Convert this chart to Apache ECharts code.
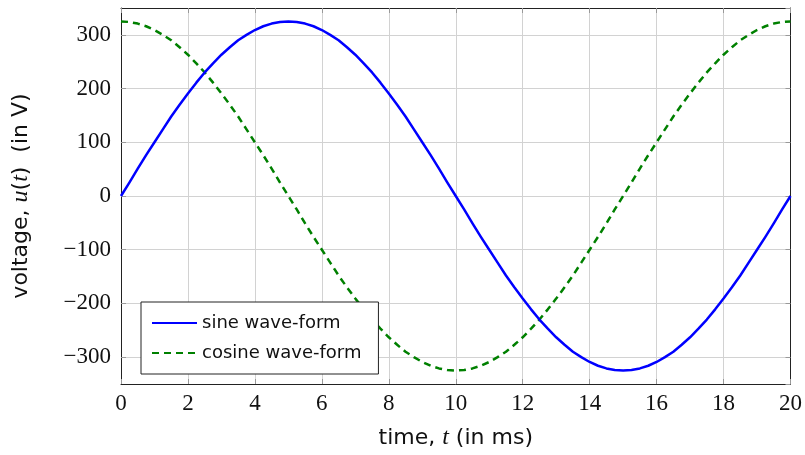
<!DOCTYPE html>
<html>
<head>
<meta charset="utf-8">
<script src="https://cdn.jsdelivr.net/npm/echarts@6/dist/echarts.min.js"></script>
<style>
  html, body { margin: 0; padding: 0; background: #fff; }
  #chart { width: 805px; height: 455px; }
</style>
</head>
<body>
<div id="chart"></div>
<script>
// time in ms, sampled every 0.25 ms
const times = [
  0, 0.25, 0.5, 0.75, 1, 1.25, 1.5, 1.75, 2, 2.25, 2.5, 2.75, 3, 3.25, 3.5, 3.75, 4, 4.25, 4.5, 4.75,
  5, 5.25, 5.5, 5.75, 6, 6.25, 6.5, 6.75, 7, 7.25, 7.5, 7.75, 8, 8.25, 8.5, 8.75, 9, 9.25, 9.5, 9.75,
  10, 10.25, 10.5, 10.75, 11, 11.25, 11.5, 11.75, 12, 12.25, 12.5, 12.75, 13, 13.25, 13.5, 13.75, 14, 14.25, 14.5, 14.75,
  15, 15.25, 15.5, 15.75, 16, 16.25, 16.5, 16.75, 17, 17.25, 17.5, 17.75, 18, 18.25, 18.5, 18.75, 19, 19.25, 19.5, 19.75,
  20
]

// voltage (peak around 325 V)
const sineValues = [
  0, 25, 51, 76, 100, 124, 148, 170, 191, 211, 230, 247, 263, 277, 290, 300, 309, 316, 321, 324,
  325, 324, 321, 316, 309, 300, 290, 277, 263, 247, 230, 211, 191, 170, 148, 124, 100, 76, 51, 25,
  0, -25, -51, -76, -100, -124, -148, -170, -191, -211, -230, -247, -263, -277, -290, -300, -309, -316, -321, -324,
  -325, -324, -321, -316, -309, -300, -290, -277, -263, -247, -230, -211, -191, -170, -148, -124, -100, -76, -51, -25,
  0
]
const cosineValues = [
  325, 324, 321, 316, 309, 300, 290, 277, 263, 247, 230, 211, 191, 170, 148, 124, 100, 76, 51, 25,
  0, -25, -51, -76, -100, -124, -148, -170, -191, -211, -230, -247, -263, -277, -290, -300, -309, -316, -321, -324,
  -325, -324, -321, -316, -309, -300, -290, -277, -263, -247, -230, -211, -191, -170, -148, -124, -100, -76, -51, -25,
  0, 25, 51, 76, 100, 124, 148, 170, 191, 211, 230, 247, 263, 277, 290, 300, 309, 316, 321, 324,
  325
]

const seriesNames = ['sine wave-form', 'cosine wave-form']

const serif = '"Liberation Serif", "DejaVu Serif", serif'
const sans = '"DejaVu Sans", sans-serif'

const chart = echarts.init(document.getElementById('chart'))

const frameLine = { show: true, onZero: false, lineStyle: { color: '#222', width: 1 } }
const innerTick = { show: true, inside: true, length: 5, lineStyle: { color: '#999', width: 1 } }
const gridLine = { show: true, lineStyle: { color: '#d2d2d2', width: 1 } }

const nameRich = {
  s: { fontFamily: sans, fontSize: 22, color: '#111' },
  m: { fontFamily: serif, fontStyle: 'italic', fontSize: 24, color: '#111' }
}

chart.setOption({
  animation: false,
  grid: { left: 121, top: 8, right: 14, bottom: 71 },
  legend: {
    orient: 'vertical',
    left: 141,
    top: 302,
    backgroundColor: '#fff',
    borderColor: '#222',
    borderWidth: 1,
    borderRadius: 0,
    padding: [12, 17, 12, 10],
    itemWidth: 45,
    itemHeight: 14,
    itemGap: 12,
    data: seriesNames,
    itemStyle: { opacity: 0 },
    textStyle: { fontFamily: sans, fontSize: 18, color: '#111' }
  },
  xAxis: [
    {
      type: 'value',
      min: 0,
      max: 20,
      interval: 2,
      axisLine: frameLine,
      axisTick: innerTick,
      splitLine: gridLine,
      axisLabel: { fontFamily: serif, fontSize: 23, color: '#111', margin: 8 },
      name: '{s|time, }{m|t}{s| (in ms)}',
      nameLocation: 'middle',
      nameGap: 42,
      nameTextStyle: { rich: nameRich }
    },
    {
      type: 'value',
      position: 'top',
      min: 0,
      max: 20,
      interval: 2,
      axisLine: frameLine,
      axisTick: innerTick,
      splitLine: { show: false },
      axisLabel: { show: false }
    }
  ],
  yAxis: [
    {
      type: 'value',
      min: -350,
      max: 350,
      splitNumber: 7,
      axisLine: frameLine,
      axisTick: innerTick,
      splitLine: gridLine,
      axisLabel: {
        fontFamily: serif,
        fontSize: 23,
        color: '#111',
        margin: 10,
        showMinLabel: false,
        showMaxLabel: false,
        formatter: v => String(v).replace('-', '\u2212')
      },
      name: '{s|voltage, }{m|u}{s|(}{m|t}{s|)  (in V)}',
      nameLocation: 'middle',
      nameRotate: 90,
      nameGap: 88,
      nameTextStyle: { rich: nameRich }
    },
    {
      type: 'value',
      position: 'right',
      min: -350,
      max: 350,
      splitNumber: 7,
      axisLine: frameLine,
      axisTick: innerTick,
      splitLine: { show: false },
      axisLabel: { show: false }
    }
  ],
  series: [
    {
      name: seriesNames[0],
      type: 'line',
      smooth: false,
      symbol: 'none',
      data: times.map((t, i) => [t, sineValues[i]]),
      lineStyle: { color: '#0000ff', width: 2.5, join: 'round' },
      itemStyle: { color: '#0000ff' },
      z: 3
    },
    {
      name: seriesNames[1],
      type: 'line',
      smooth: false,
      symbol: 'none',
      data: times.map((t, i) => [t, cosineValues[i]]),
      lineStyle: { color: '#008000', width: 2.5, type: [7, 5], join: 'round' },
      itemStyle: { color: '#008000' },
      z: 2
    }
  ]
})
</script>
</body>
</html>
